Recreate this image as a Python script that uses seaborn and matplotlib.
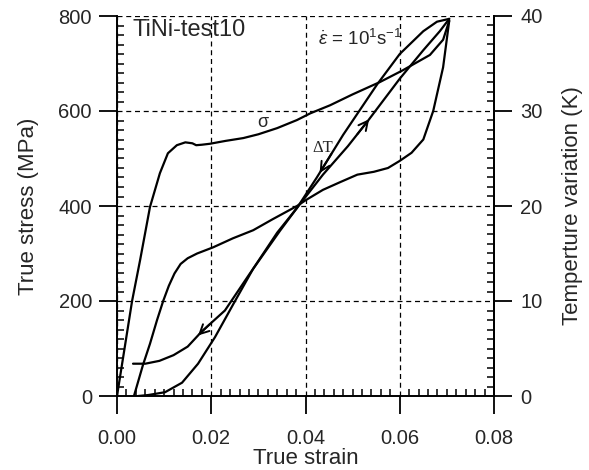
import numpy as np
import pandas as pd
import matplotlib
matplotlib.use("Agg")
import matplotlib.pyplot as plt
import seaborn as sns
from matplotlib.ticker import MultipleLocator, FormatStrFormatter

# True stress (MPa) during loading
load_strain = [0.0, 0.0032, 0.0049, 0.0070, 0.0091, 0.0108, 0.0127, 0.0145, 0.0160, 0.0168,
               0.0180, 0.0197, 0.0230, 0.0268, 0.0300, 0.0340, 0.0382, 0.0410, 0.0452, 0.0500,
               0.0558, 0.0607, 0.0664, 0.0692, 0.0705]
load_stress = [0, 200, 286, 398, 469, 511, 528, 534, 532, 528,
               529, 531, 537, 543, 551, 564, 581, 595, 612, 635,
               661, 686, 718, 750, 790]

# True stress (MPa) during unloading
unload_strain = [0.0705, 0.0692, 0.0671, 0.0650, 0.0625, 0.0600, 0.0575, 0.0545, 0.0510, 0.0473,
                 0.0437, 0.0400, 0.0382, 0.0330, 0.0289, 0.0246, 0.0204, 0.0170, 0.0150, 0.0135,
                 0.0122, 0.0110, 0.0098, 0.0085, 0.0070, 0.0055, 0.0036]
unload_stress = [790, 692, 600, 540, 512, 495, 480, 472, 466, 450,
                 434, 412, 400, 372, 349, 332, 313, 300, 290, 278,
                 258, 232, 200, 160, 110, 65, 0]

# Temperature variation (K) during loading
dT_load_strain = [0.0045, 0.0066, 0.0102, 0.0138, 0.0172, 0.0208, 0.0246, 0.0289, 0.0340, 0.0382,
                  0.0437, 0.0490, 0.0533, 0.0600, 0.0650, 0.0685, 0.0705]
dT_load = [0.0, 0.1, 0.4, 1.4, 3.4, 6.2, 9.6, 13.4, 17.2, 19.8,
           23.3, 26.3, 29.0, 33.4, 36.4, 38.4, 39.7]

# Temperature variation (K) during unloading
dT_unload_strain = [0.0705, 0.0679, 0.0650, 0.0600, 0.0552, 0.0480, 0.0424, 0.0382, 0.0346, 0.0282,
                    0.0229, 0.0180, 0.0150, 0.0120, 0.0090, 0.0060, 0.0034]
dT_unload = [39.7, 39.4, 38.4, 36.0, 32.8, 27.5, 23.0, 19.8, 17.4, 12.9,
             9.0, 6.8, 5.2, 4.3, 3.7, 3.4, 3.4]

x_ticks = [0.00, 0.02, 0.04, 0.06, 0.08]
stress_ticks = [0, 200, 400, 600, 800]
dT_ticks = [0, 10, 20, 30, 40]

sns.set_theme(style="ticks")
plt.rcParams["font.family"] = ["Liberation Sans", "DejaVu Sans"]
plt.rcParams["mathtext.fontset"] = "custom"
plt.rcParams["mathtext.rm"] = "Liberation Sans"
plt.rcParams["mathtext.it"] = "Liberation Sans:italic"

fig = plt.figure(figsize=(5.89, 4.70), dpi=100)
ax = fig.add_axes([117 / 589, 1 - 396 / 470, (494 - 117) / 589, (396 - 16) / 470])
ax2 = ax.twinx()

lw = 1.6
sig_load = pd.DataFrame({"strain": load_strain, "value": load_stress})
sig_unload = pd.DataFrame({"strain": unload_strain, "value": unload_stress})
t_load = pd.DataFrame({"strain": dT_load_strain, "value": dT_load})
t_unload = pd.DataFrame({"strain": dT_unload_strain, "value": dT_unload})

for df in (sig_load, sig_unload):
    sns.lineplot(data=df, x="strain", y="value", ax=ax, color="black", lw=lw,
                 estimator=None, sort=False)
for df in (t_load, t_unload):
    sns.lineplot(data=df, x="strain", y="value", ax=ax2, color="black", lw=lw,
                 estimator=None, sort=False)


def arrow_on(ax_, xs, ys, x_at, dx):
    """Open arrowhead lying on a curve, pointing in the direction of dx."""
    order = np.argsort(xs)
    xa = np.asarray(xs)[order]
    ya = np.asarray(ys)[order]
    y_at = np.interp(x_at, xa, ya)
    x0 = x_at - dx
    y0 = np.interp(x0, xa, ya)
    ax_.annotate("", xy=(x_at, y_at), xytext=(x0, y0),
                 arrowprops=dict(arrowstyle="->,head_length=0.55,head_width=0.28",
                                 color="black", lw=1.4, shrinkA=0, shrinkB=0))


arrow_on(ax2, dT_load_strain, dT_load, 0.0535, 0.0025)
arrow_on(ax2, dT_unload_strain, dT_unload, 0.0430, -0.0025)
arrow_on(ax2, dT_unload_strain, dT_unload, 0.0172, -0.0025)

ax.set_xlim(0, 0.08)
ax.set_ylim(0, 800)
ax2.set_ylim(0, 40)

ax.set_xticks(x_ticks)
ax.set_yticks(stress_ticks)
ax2.set_yticks(dT_ticks)
ax.xaxis.set_major_formatter(FormatStrFormatter("%.2f"))
ax.xaxis.set_minor_locator(MultipleLocator(0.002))
ax.yaxis.set_minor_locator(MultipleLocator(20))
ax2.yaxis.set_minor_locator(MultipleLocator(1))

tick_fs = 14.5
ax.tick_params(axis="both", which="major", direction="out", length=13, width=1.3,
               labelsize=tick_fs, color="black")
ax.tick_params(axis="x", which="major", pad=11)
ax.tick_params(axis="y", which="major", pad=5)
ax.tick_params(axis="both", which="minor", direction="in", length=5, width=1.1, color="black")
ax.tick_params(axis="y", which="both", right=False)
ax.tick_params(axis="x", which="both", top=False)
ax2.tick_params(axis="y", which="major", direction="out", length=13, width=1.3,
                labelsize=tick_fs, color="black", pad=6)
ax2.tick_params(axis="y", which="minor", direction="in", length=5, width=1.1, color="black")

ax.grid(True, which="major", color="black", lw=0.9, ls=(0, (4, 3)))

for a in (ax, ax2):
    a.spines["top"].set_visible(False)
    for s in a.spines.values():
        s.set_linewidth(1.4)
        s.set_color("black")
ax2.spines["left"].set_visible(False)
ax2.spines["bottom"].set_visible(False)

ax.set_xlabel("True strain", fontsize=16, labelpad=0)
ax.set_ylabel("True stress (MPa)", fontsize=16, labelpad=14)
ax2.set_ylabel("Temperture variation (K)", fontsize=16, labelpad=14)

ax.text(0.0033, 770, "TiNi-test10", fontsize=17, ha="left", va="center")
ax.text(0.0427, 752, r"$\dot{\varepsilon}$ = 10$^{1}$s$^{-1}$", fontsize=13.5,
        ha="left", va="center")
ax.text(0.031, 575, "σ", fontsize=13, ha="center", va="center")
ax.text(0.0437, 522, "ΔT", fontsize=12, ha="center", va="center",
        family=["Liberation Serif", "DejaVu Serif"])

fig.savefig("out.png", dpi=100)
